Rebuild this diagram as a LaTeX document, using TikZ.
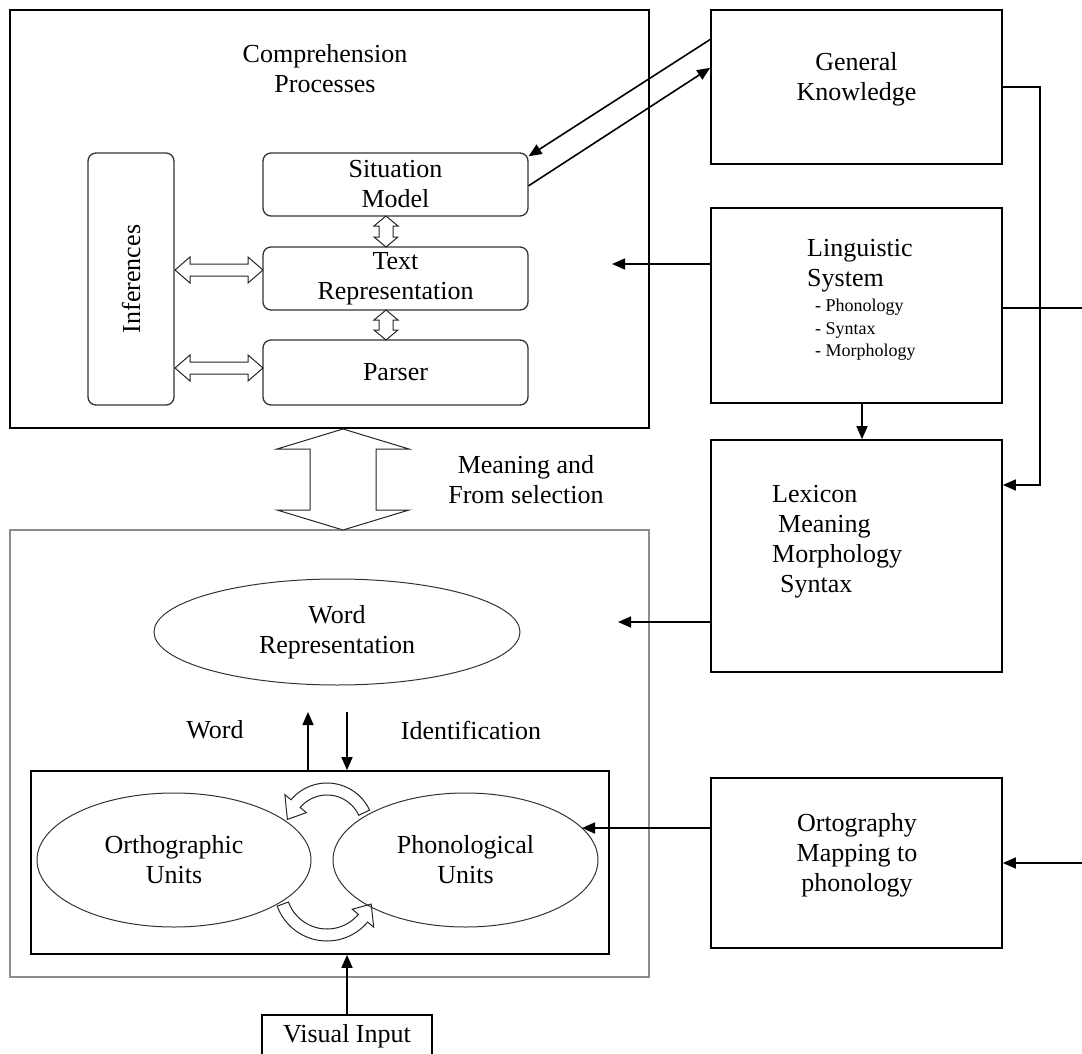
\documentclass[tikz,border=0pt]{standalone}
\usepackage{fontspec}
\setmainfont{Liberation Serif}
\usetikzlibrary{arrows.meta,shapes.geometric,calc}

\newcommand{\txtsize}{\fontsize{26}{30}\selectfont}
\newcommand{\listsize}{\fontsize{18}{22.5}\selectfont}

% hollow double arrows: left tip, right tip, y, shaft half, head half, head length
\newcommand{\hollowh}[6]{%
  \draw[hollow] (#1,#3) -- (#1+#6,#3-#5) -- (#1+#6,#3-#4) -- (#2-#6,#3-#4)
    -- (#2-#6,#3-#5) -- (#2,#3) -- (#2-#6,#3+#5) -- (#2-#6,#3+#4)
    -- (#1+#6,#3+#4) -- (#1+#6,#3+#5) -- cycle;}
% x, top tip, bottom tip, shaft half, head half, head length
\newcommand{\hollowv}[6]{%
  \draw[hollow] (#1,#2) -- (#1+#5,#2+#6) -- (#1+#4,#2+#6) -- (#1+#4,#3-#6)
    -- (#1+#5,#3-#6) -- (#1,#3) -- (#1-#5,#3-#6) -- (#1-#4,#3-#6)
    -- (#1-#4,#2+#6) -- (#1-#5,#2+#6) -- cycle;}

\tikzset{
  box/.style={draw, line width=1.7pt, inner sep=0pt},
  rbox/.style={draw=black!80, line width=1.3pt, rounded corners=8pt, inner sep=0pt, align=center, font=\txtsize},
  oval/.style={ellipse, draw=black!80, line width=1pt, inner sep=0pt, align=center, font=\txtsize},
  txt/.style={align=center, font=\txtsize, inner sep=0pt},
  arr/.style={line width=1.6pt, -{Triangle[length=13pt,width=11pt]}},
  hollow/.style={draw=black!85, line width=1pt, fill=white, line join=miter},
}

\begin{document}
\begin{tikzpicture}[x=1pt, y=-1pt]
  \useasboundingbox (0,0) rectangle (1082,1054);

  % comprehension block
  \node[box, minimum width=639, minimum height=418] (comp) at (329.5,219) {};
  \node[txt] (comptxt) at (325,69) {Comprehension\\Processes};
  \node[rbox, minimum width=252, minimum height=86, rotate=90] (inf) at (131,279) {Inferences};
  \node[rbox, minimum width=265, minimum height=63] (sm) at (395.5,184.5) {Situation\\Model};
  \node[rbox, minimum width=265, minimum height=63] (tr) at (395.5,278.5) {Text\\Representation};
  \node[rbox, minimum width=265, minimum height=65] (pars) at (395.5,372.5) {Parser};

  \hollowv{386}{216}{247}{7}{12}{10}
  \hollowv{386}{310}{340}{7}{12}{10}
  \hollowh{175}{263}{270}{6}{13}{15}
  \hollowh{175}{263}{368}{6}{13}{15}

  % knowledge sources
  \node[box, minimum width=291, minimum height=154] (gk) at (856.5,87) {};
  \node[txt] (gktxt) at (856.5,79) {General\\Knowledge};
  \node[box, minimum width=291, minimum height=195] (ls) at (856.5,305.5) {};
  \node[txt, align=left, anchor=west] (lstxt) at (807,266) {Linguistic\\System};
  \node[txt, align=left, anchor=west, font=\listsize] (lslist) at (815,330) {- Phonology\\- Syntax\\- Morphology};
  \node[box, minimum width=291, minimum height=232] (lex) at (856.5,556) {};
  \node[txt, align=left, anchor=west] (lextxt) at (772,542) {Lexicon\\\hspace*{6pt}Meaning\\Morphology\\\hspace*{8pt}Syntax};
  \node[box, minimum width=291, minimum height=170] (ortho) at (856.5,863) {};
  \node[txt] (orthotxt) at (857,855) {Ortography\\Mapping to\\phonology};

  % word identification block
  \node[box, draw=black!45, line width=1.3pt, minimum width=639, minimum height=447] (mean) at (329.5,753.5) {};
  \hollowv{343}{429}{530}{33}{66}{20}
  \node[txt] (meantxt) at (526,480) {Meaning and\\From selection};
  \node[oval, minimum width=366, minimum height=106] (wrep) at (337,632) {Word\\Representation};
  \node[txt] (wordtxt) at (215,730) {Word};
  \node[txt] (idtxt) at (471,730) {Identification};
  \node[box, minimum width=578, minimum height=183] (inner) at (320,862.5) {};

  % curved hollow arrows
  \draw[hollow] plot[domain=-25:-140, samples=30] ({327+47*cos(\x)},{830+47*sin(\x)})
    -- ({327+55*cos(-140)},{830+55*sin(-140)})
    -- ({327+41*cos(-165)},{830+41*sin(-165)})
    -- ({327+27*cos(-140)},{830+27*sin(-140)})
    -- plot[domain=-140:-25, samples=30] ({327+35*cos(\x)},{830+35*sin(\x)}) -- cycle;
  \draw[hollow] plot[domain=160:40, samples=30] ({327+53*cos(\x)},{888+53*sin(\x)})
    -- ({327+61*cos(40)},{888+61*sin(40)})
    -- ({327+47*cos(20)},{888+47*sin(20)})
    -- ({327+33*cos(40)},{888+33*sin(40)})
    -- plot[domain=40:160, samples=30] ({327+41*cos(\x)},{888+41*sin(\x)}) -- cycle;

  \node[oval, minimum width=274, minimum height=134] (orth) at (174,860) {Orthographic\\Units};
  \node[oval, minimum width=265, minimum height=134] (phon) at (465.5,860) {Phonological\\Units};
  \node[box, font=\txtsize, minimum width=170, minimum height=42, anchor=north] (vis) at (347,1014) {Visual Input};

  % connectors
  \draw[arr] ($(gk.north west)!0.195!(gk.south west)$) -- ($(sm.north east)!0.06!(sm.south east)$);
  \draw[arr] ($(sm.north east)!0.52!(sm.south east)$) -- ($(gk.north west)!0.377!(gk.south west)$);
  \coordinate (gkturn) at (1040,485);
  \draw[arr] (gk.east) -| (gkturn) -- (gkturn -| lex.east);
  \coordinate (lsin) at (612,264);
  \draw[arr] (lsin -| ls.west) -- (lsin);
  \coordinate (rturn) at (1095,308);
  \draw[arr] (rturn -| ls.east) -- (rturn) |- (ortho.east);
  \draw[arr] ([xshift=5.5pt]ls.south) -- ([xshift=5.5pt]lex.north);
  \coordinate (lexin) at (618,622);
  \draw[arr] (lexin -| lex.west) -- (lexin);
  \coordinate (ortin) at (582,828);
  \draw[arr] (ortin -| ortho.west) -- (ortin);
  \draw[arr] (vis.north) -- (vis.north |- inner.south);
  \coordinate (wup) at (308,712);
  \draw[arr] (wup |- inner.north) -- (wup);
  \coordinate (wdn) at (347,712);
  \draw[arr] (wdn) -- (wdn |- inner.north);
\end{tikzpicture}
\end{document}
